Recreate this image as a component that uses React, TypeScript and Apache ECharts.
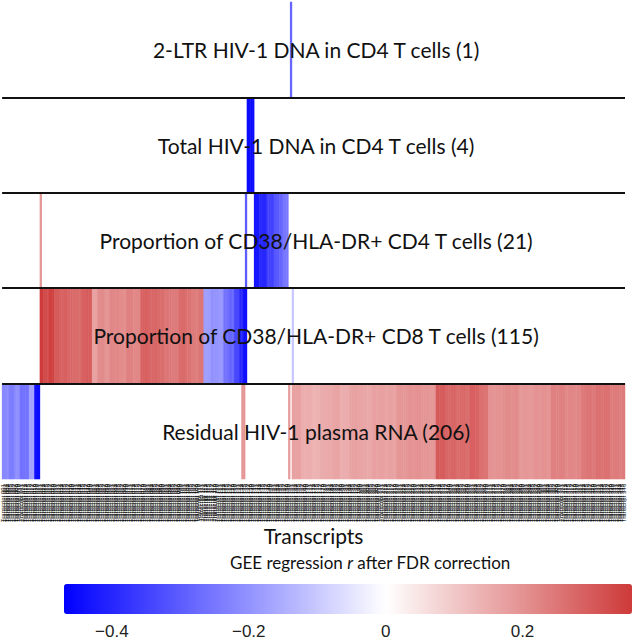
import React, { useEffect, useRef } from 'react';
import * as echarts from 'echarts';

// Row (trait) labels, top to bottom
const ROWS = [
  '2-LTR HIV-1 DNA in CD4 T cells (1)',
  'Total HIV-1 DNA in CD4 T cells (4)',
  'Proportion of CD38/HLA-DR+ CD4 T cells (21)',
  'Proportion of CD38/HLA-DR+ CD8 T cells (115)',
  'Residual HIV-1 plasma RNA (206)',
];

// Number of transcript columns along the x axis
const N_TRANSCRIPTS = 346;
const transcripts = Array.from({ length: N_TRANSCRIPTS }, (_, i) => 'Transcript ' + String(i + 1).padStart(3, '0'));

// Colour scale range (GEE regression r) and tick labels
const R_MIN = -0.47;
const R_MAX = 0.36;
const R_TICKS = [-0.4, -0.2, 0, 0.2];

// Runs of consecutive transcripts sharing (about) the same r: [firstTranscriptIndex, count, r]
const row1Runs = [[160, 1, -0.28]];
const row2Runs = [[136, 4, -0.45]];
const row3Runs = [
  [21, 1, 0.19], [135, 1, -0.3], [140, 3, -0.43], [143, 4, -0.4], [147, 4, -0.35],
  [151, 3, -0.31], [154, 2, -0.28], [156, 3, -0.25],
];
const row4Runs = [
  [21, 2, 0.36], [23, 2, 0.33], [25, 1, 0.31], [26, 3, 0.35], [29, 3, 0.3], [32, 4, 0.29],
  [36, 3, 0.28], [39, 5, 0.27], [44, 3, 0.29], [47, 3, 0.3], [50, 3, 0.17], [53, 4, 0.21],
  [57, 3, 0.2], [60, 5, 0.22], [65, 4, 0.21], [69, 4, 0.23], [73, 4, 0.22], [77, 4, 0.29],
  [81, 5, 0.28], [86, 4, 0.27], [90, 4, 0.25], [94, 4, 0.24], [98, 4, 0.27], [102, 3, 0.26],
  [105, 4, 0.24], [109, 3, 0.25],
  [112, 4, -0.18], [116, 4, -0.2], [120, 3, -0.19], [123, 3, -0.26], [126, 3, -0.28],
  [129, 3, -0.34], [132, 2, -0.4], [134, 2, -0.44], [161, 1, -0.1],
];
const row5Runs = [
  [0, 4, -0.22], [4, 3, -0.24], [7, 3, -0.21], [10, 5, -0.26], [15, 3, -0.17], [18, 3, -0.45],
  [133, 2, 0.19], [159, 1, 0.18],
  [161, 5, 0.175], [166, 6, 0.15], [172, 5, 0.14], [177, 6, 0.155], [183, 5, 0.165], [188, 5, 0.15],
  [193, 7, 0.17], [200, 6, 0.16], [206, 6, 0.175], [212, 7, 0.17], [219, 7, 0.19], [226, 8, 0.2],
  [234, 7, 0.19], [241, 5, 0.3], [246, 6, 0.28], [252, 8, 0.27], [260, 5, 0.29], [265, 5, 0.26],
  [270, 8, 0.2], [278, 9, 0.21], [287, 9, 0.19], [296, 9, 0.2], [305, 8, 0.23], [313, 9, 0.22],
  [322, 8, 0.25], [330, 8, 0.26], [338, 8, 0.24],
];
const ALL_RUNS = [row1Runs, row2Runs, row3Runs, row4Runs, row5Runs];

function buildCells() {
  const cells: number[][] = [];
  ALL_RUNS.forEach((runs, rowIdx) => {
    runs.forEach(([start, count, r]) => {
      for (let j = 0; j < count; j++) cells.push([start + j, rowIdx, r]);
    });
  });
  return cells;
}

// Diverging palette: blue at min, white at 0, red at max
function paletteStops() {
  const BLUE = [0, 0, 255];
  const WHITE = [255, 255, 255];
  const RED = [206, 58, 58];
  const K = 84;
  const out: string[] = [];
  for (let k = 0; k < K; k++) {
    const v = R_MIN + (k * (R_MAX - R_MIN)) / (K - 1);
    let c;
    if (v < 0) {
      const t = Math.min(1, v / R_MIN);
      c = WHITE.map((w, i) => Math.round(w + (BLUE[i] - w) * t));
    } else {
      const t = Math.min(1, v / R_MAX);
      c = WHITE.map((w, i) => Math.round(w + (RED[i] - w) * t));
    }
    out.push(`rgb(${c[0]},${c[1]},${c[2]})`);
  }
  return out;
}

export default function App() {
  const ref = useRef<HTMLDivElement>(null);
  useEffect(() => {
    document.body.style.margin = '0';
    const chart = echarts.init(ref.current!, null, { renderer: 'svg' });
    const labelFont = 'Lato, "Open Sans", sans-serif';
    chart.setOption({
      animation: false,
      backgroundColor: '#ffffff',
      title: {
        text: '{n|GEE regression }{i|r}{n| after FDR correction}',
        left: 230,
        top: 554,
        padding: 0,
        textStyle: {
          fontWeight: 'normal',
          rich: {
            n: { fontFamily: labelFont, fontSize: 17, color: '#111', fontWeight: 'normal' },
            i: { fontFamily: labelFont, fontSize: 17, color: '#111', fontWeight: 'normal', fontStyle: 'italic' },
          },
        },
      },
      grid: [
        { left: 2, top: 2, width: 623, height: 477 },
        { left: 64, top: 614, width: 568, height: 1 },
      ],
      xAxis: [
        {
          type: 'category',
          gridIndex: 0,
          data: transcripts,
          axisLine: { show: false },
          axisTick: { show: false },
          splitLine: { show: false },
          axisLabel: {
            interval: 0,
            rotate: 90,
            fontSize: 6,
            margin: 5,
            color: '#000',
            fontFamily: 'Liberation Sans',
          },
          name: 'Transcripts',
          nameLocation: 'middle',
          nameGap: 46,
          nameMoveOverlap: false,
          nameTextStyle: { fontFamily: labelFont, fontSize: 21, color: '#111' },
        },
        {
          type: 'value',
          gridIndex: 1,
          min: R_MIN,
          max: R_MAX,
          axisLine: { show: false },
          axisTick: { show: false },
          splitLine: { show: false },
          axisLabel: {
            customValues: R_TICKS,
            margin: 9,
            fontSize: 17,
            color: '#222',
            fontFamily: '"Liberation Sans", Arial, sans-serif',
            formatter: (v: number) => (v < 0 ? '\u2212' + Math.abs(v) : String(v)),
          },
        },
      ],
      yAxis: [
        {
          type: 'category',
          gridIndex: 0,
          data: ROWS,
          inverse: true,
          z: 10,
          axisLine: { show: false },
          axisTick: { show: false },
          splitLine: {
            show: true,
            showMinLine: false,
            showMaxLine: false,
            lineStyle: { color: '#111', width: 2 },
          },
          axisLabel: {
            inside: true,
            margin: 314,
            align: 'center',
            fontFamily: labelFont,
            fontSize: 21,
            color: '#111',
          },
        },
        { type: 'value', gridIndex: 1, show: false },
      ],
      visualMap: {
        type: 'continuous',
        seriesIndex: 0,
        dimension: 2,
        min: R_MIN,
        max: R_MAX,
        orient: 'horizontal',
        left: 64,
        top: 584,
        padding: 0,
        itemWidth: 30,
        itemHeight: 568,
        calculable: false,
        hoverLink: false,
        showLabel: false,
        text: null,
        inRange: { color: paletteStops() },
      },
      series: [
        {
          type: 'heatmap',
          xAxisIndex: 0,
          yAxisIndex: 0,
          data: buildCells(),
          itemStyle: { borderWidth: 0 },
          emphasis: { disabled: true },
          progressive: 0,
        },
      ],
    });
    return () => chart.dispose();
  }, []);
  return (
    <div
      ref={ref}
      style={{ position: 'fixed', left: 0, top: 0, width: 633, height: 640 }}
    />
  );
}
